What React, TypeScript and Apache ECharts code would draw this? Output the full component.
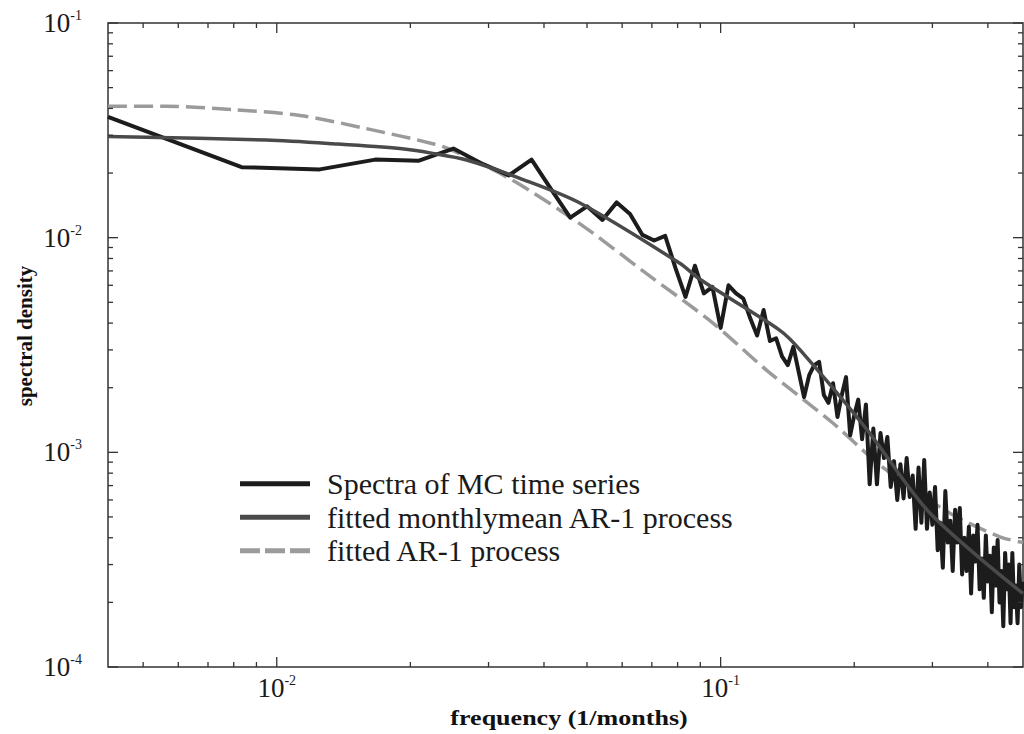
import React, { useEffect, useRef } from 'react';
import * as echarts from 'echarts';

// ---------- data ----------
const N_MONTHS = 240; // record length: frequencies are k / N_MONTHS
const X_MIN = 1 / 240;
const X_MAX = 0.48;
const Y_MIN = 1e-4;
const Y_MAX = 1e-1;

// spectral density of the MC time series at k/240, k = 1..115
const spectraValues = [
  0.0365, 0.0213, 0.0208, 0.0231, 0.0228, 0.026, 0.022, 0.0195, 0.0231, 0.0166,
  0.0124, 0.014, 0.0121, 0.0146, 0.0129, 0.0103, 0.0097, 0.0102, 0.0072, 0.0053,
  0.0074, 0.0055, 0.0059, 0.0038, 0.006, 0.0055, 0.0052, 0.0042, 0.0035, 0.0046,
  0.0033, 0.0034, 0.0028, 0.00255, 0.0031, 0.00236, 0.00181, 0.00229, 0.00255, 0.00264,
  0.00185, 0.0017, 0.0021, 0.00146, 0.00185, 0.00224, 0.0012, 0.00149, 0.00176, 0.00115,
  0.00167, 0.00071, 0.00129, 0.00071, 0.00123, 0.00094, 0.00118, 0.00069, 0.00091, 0.0006,
  0.00088, 0.00061, 0.00094, 0.00062, 0.00078, 0.00044, 0.00085, 0.00047, 0.00092, 0.00044,
  0.00065, 0.00046, 0.00069, 0.00035, 0.00047, 0.00029, 0.00066, 0.00038, 0.00048, 0.00028,
  0.00054, 0.00038, 0.00055, 0.00027, 0.0004, 0.00028, 0.00045, 0.00022, 0.00041, 0.00031,
  0.00046, 0.00023, 0.00032, 0.00021, 0.00041, 0.00025, 0.00033, 0.00018, 0.00036, 0.00024,
  0.00039, 0.0002, 0.00028, 0.000155, 0.00034, 0.00023, 0.0003, 0.00016, 0.00034, 0.00019,
  0.00024, 0.00016, 0.0003, 0.00019, 0.00025,
];

const fitMonthlyFreq = [0.004167, 0.00948, 0.01337, 0.01893, 0.02246, 0.02677, 0.0353, 0.0482, 0.0809, 0.0898, 0.136, 0.151, 0.2134, 0.2965, 0.48];
const fitMonthlyVal = [0.0296, 0.0285, 0.0274, 0.026, 0.0247, 0.023, 0.0189, 0.0145, 0.0076, 0.0064, 0.0037, 0.003, 0.00128, 0.00052, 0.00022];

const fitAR1Freq = [0.004167, 0.00564, 0.00796, 0.01127, 0.01593, 0.02246, 0.0249, 0.034, 0.0482, 0.0681, 0.0961, 0.127, 0.179, 0.232, 0.3287, 0.426, 0.48];
const fitAR1Val = [0.0409, 0.0409, 0.0395, 0.0371, 0.0322, 0.0274, 0.0255, 0.0185, 0.0116, 0.0068, 0.004, 0.00241, 0.00137, 0.00085, 0.00052, 0.000404, 0.00038];

const seriesNames = ['Spectra of MC time series', 'fitted monthlymean AR-1 process', 'fitted AR-1 process'];

const xMajorTicks = [0.01, 0.1];
const xMinorTicks = [0.005, 0.006, 0.007, 0.008, 0.009, 0.02, 0.03, 0.04, 0.05, 0.06, 0.07, 0.08, 0.09, 0.2, 0.3, 0.4];
const yMajorTicks = [1e-4, 1e-3, 1e-2, 1e-1];
const yMinorTicks = [
  2e-4, 3e-4, 4e-4, 5e-4, 6e-4, 7e-4, 8e-4, 9e-4,
  2e-3, 3e-3, 4e-3, 5e-3, 6e-3, 7e-3, 8e-3, 9e-3,
  2e-2, 3e-2, 4e-2, 5e-2, 6e-2, 7e-2, 8e-2, 9e-2,
];

// ---------- styles ----------
const SERIF = '"Liberation Serif", "Times New Roman", serif';
const AXIS_COLOR = '#333';

function xTickSeries(ticks: number[], len: number) {
  return {
    type: 'custom',
    coordinateSystem: 'cartesian2d',
    silent: true,
    clip: false,
    z: 5,
    data: ticks.map((v) => [v, Y_MIN]),
    renderItem: (_p: any, api: any) => {
      const v = api.value(0);
      const b = api.coord([v, Y_MIN]);
      const t = api.coord([v, Y_MAX]);
      const st = { stroke: AXIS_COLOR, lineWidth: 1.3 };
      return {
        type: 'group',
        children: [
          { type: 'line', shape: { x1: b[0], y1: b[1], x2: b[0], y2: b[1] - len }, style: st },
          { type: 'line', shape: { x1: t[0], y1: t[1], x2: t[0], y2: t[1] + len }, style: st },
        ],
      };
    },
  };
}

function yTickSeries(ticks: number[], len: number) {
  return {
    type: 'custom',
    coordinateSystem: 'cartesian2d',
    silent: true,
    clip: false,
    z: 5,
    data: ticks.map((v) => [X_MIN, v]),
    renderItem: (_p: any, api: any) => {
      const v = api.value(1);
      const l = api.coord([X_MIN, v]);
      const r = api.coord([X_MAX, v]);
      const st = { stroke: AXIS_COLOR, lineWidth: 1.3 };
      return {
        type: 'group',
        children: [
          { type: 'line', shape: { x1: l[0], y1: l[1], x2: l[0] + len, y2: l[1] }, style: st },
          { type: 'line', shape: { x1: r[0], y1: r[1], x2: r[0] - len, y2: r[1] }, style: st },
        ],
      };
    },
  };
}

const powLabel = (v: number) => {
  const e = Math.log10(v);
  const r = Math.round(e);
  if (Math.abs(e - r) > 1e-6) return '';
  return `{b|10}{s|${r}}`;
};

const labelRich = {
  b: { fontSize: 27, fontFamily: SERIF, color: '#1a1a1a', lineHeight: 29 },
  s: { fontSize: 14, fontFamily: SERIF, color: '#1a1a1a', verticalAlign: 'top', lineHeight: 15 },
};

const labelBase = {
  fontSize: 27,
  fontFamily: SERIF,
  color: '#1a1a1a',
  formatter: powLabel,
  rich: labelRich,
};

export default function App() {
  const ref = useRef<HTMLDivElement>(null);

  useEffect(() => {
    if (!ref.current) return;
    const chart = echarts.init(ref.current, null, { renderer: 'svg' });

    const spectraData = spectraValues.map((v, i) => [(i + 1) / N_MONTHS, v]);
    const fitMonthlyData = fitMonthlyFreq.map((f, i) => [f, fitMonthlyVal[i]]);
    const fitAR1Data = fitAR1Freq.map((f, i) => [f, fitAR1Val[i]]);

    chart.setOption({
      animation: false,
      backgroundColor: '#fff',
      grid: {
        left: 108,
        top: 23,
        width: 915,
        height: 644,
        show: true,
        borderColor: AXIS_COLOR,
        borderWidth: 1.5,
        backgroundColor: 'transparent',
      },
      xAxis: {
        type: 'log',
        logBase: 10,
        min: X_MIN,
        max: X_MAX,
        axisLine: { show: false },
        axisTick: { show: false },
        splitLine: { show: false },
        axisLabel: { ...labelBase, showMinLabel: false, showMaxLabel: false, margin: 6 },
      },
      yAxis: {
        type: 'log',
        logBase: 10,
        min: Y_MIN,
        max: Y_MAX,
        axisLine: { show: false },
        axisTick: { show: false },
        splitLine: { show: false },
        axisLabel: { ...labelBase, margin: 26 },
      },
      legend: {
        orient: 'vertical',
        left: 240,
        top: 467,
        padding: 0,
        itemWidth: 70,
        itemHeight: 5,
        itemGap: 0,
        selectedMode: false,
        textStyle: {
          fontFamily: SERIF,
          fontSize: 30,
          color: '#1a1a1a',
          lineHeight: 33.5,
          padding: [0, 0, 0, 12],
        },
        data: [
          { name: seriesNames[0], icon: 'rect' },
          { name: seriesNames[1], icon: 'rect' },
          { name: seriesNames[2], icon: 'path://M0,0h20v5h-20zM25,0h20v5h-20zM50,0h20v5h-20z' },
        ],
      },
      graphic: [
        {
          type: 'text',
          x: 569,
          y: 718,
          scaleX: 1.24,
          style: {
            text: 'frequency (1/months)',
            font: `bold 21px ${SERIF}`,
            fill: '#111',
            align: 'center',
            verticalAlign: 'middle',
          },
        },
        {
          type: 'text',
          x: 25,
          y: 336,
          rotation: Math.PI / 2,
          style: {
            text: 'spectral density',
            font: `bold 21px ${SERIF}`,
            fill: '#111',
            align: 'center',
            verticalAlign: 'middle',
          },
        },
      ],
      series: [
        {
          name: seriesNames[2],
          type: 'line',
          data: fitAR1Data,
          symbol: 'none',
          smooth: 0.3,
          color: '#9b9b9b',
          lineStyle: { color: '#9b9b9b', width: 3.5, type: [19, 7] },
          z: 2,
        },
        {
          name: seriesNames[0],
          type: 'line',
          data: spectraData,
          symbol: 'none',
          color: '#1c1c1c',
          lineStyle: { color: '#1c1c1c', width: 4, join: 'round' },
          z: 3,
        },
        {
          name: seriesNames[1],
          type: 'line',
          data: fitMonthlyData,
          symbol: 'none',
          smooth: 0.3,
          color: '#4a4a4a',
          lineStyle: { color: '#4a4a4a', width: 3.5 },
          z: 4,
        },
        xTickSeries(xMajorTicks, 10),
        xTickSeries(xMinorTicks, 5),
        yTickSeries(yMajorTicks, 10),
        yTickSeries(yMinorTicks, 5),
      ],
    });

    return () => chart.dispose();
  }, []);

  return (
    <div
      ref={ref}
      style={{ position: 'absolute', left: 0, top: 0, width: 1024, height: 734, background: '#fff' }}
    />
  );
}
